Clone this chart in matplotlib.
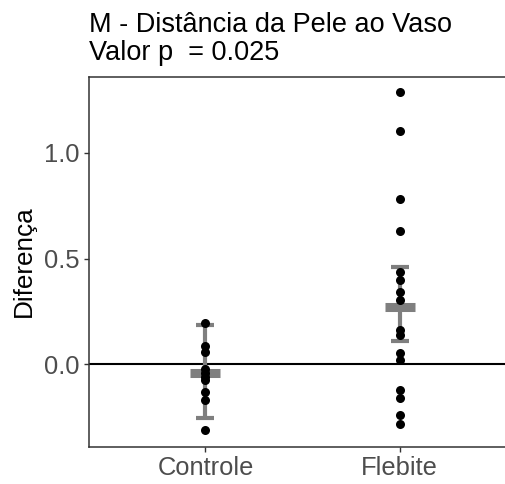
import matplotlib
matplotlib.use("Agg")
import matplotlib.pyplot as plt

plt.rcParams['font.family'] = ['Liberation Sans', 'DejaVu Sans']

# Groups and per-subject differences
categories = ["Controle", "Flebite"]
controle = [0.195, 0.085, 0.06, -0.02, -0.04, -0.06, -0.075, -0.13, -0.17, -0.31]
flebite = [1.285, 1.104, 0.78, 0.63, 0.438, 0.398, 0.343, 0.304,
           0.16, 0.14, 0.052, 0.02, -0.12, -0.16, -0.24, -0.28]

# Summary per group: centre and interval limits
centre = [-0.041, 0.272]
lower = [-0.254, 0.11]
upper = [0.186, 0.461]

title_lines = ["M - Distância da Pele ao Vaso", "Valor p  = 0.025"]
y_label = "Diferença"
y_ticks = [0.0, 0.5, 1.0]

W, H = 505, 484
dpi = 100
fig = plt.figure(figsize=(W / dpi, H / dpi), dpi=dpi)

left_px, right_px, top_px, bottom_px = 89, 516, 77, 447
ax = fig.add_axes([left_px / W, 1 - bottom_px / H,
                   (right_px - left_px) / W, (bottom_px - top_px) / H])

xpos = [1, 2]
grey = "#7f7f7f"

# zero reference line
ax.axhline(0, color="black", lw=1.5, zorder=2)

# interval bars
for x, c, lo, hi in zip(xpos, centre, lower, upper):
    ax.errorbar([x], [c], yerr=[[c - lo], [hi - c]], fmt="none",
                ecolor=grey, elinewidth=3.0, capsize=6.8, capthick=3.0, zorder=3)
    ax.plot([x], [c], marker="_", markersize=21.5, mew=6.5, color=grey, zorder=3)

# individual points
for x, vals in zip(xpos, [controle, flebite]):
    ax.plot([x] * len(vals), vals, "o", color="black", markersize=6.5,
            markeredgewidth=0, zorder=4)

ax.set_xlim(0.4, 2.6)
ax.set_ylim(-0.391, 1.358)
ax.set_xticks(xpos)
ax.set_xticklabels(categories)
ax.set_yticks(y_ticks)
ax.set_yticklabels([f"{v:.1f}" for v in y_ticks])

for s in ax.spines.values():
    s.set_color("#333333")
    s.set_linewidth(1.1)

ax.tick_params(axis="both", colors="#333333", length=3.6, width=1.0,
               labelsize=18.4, labelcolor="#4D4D4D")
ax.tick_params(axis="x", pad=3)
ax.tick_params(axis="y", pad=3)

fig.text(24 / W, 1 - 261 / H, y_label, rotation=90, ha="center", va="center",
         fontsize=18.8, color="black")

fig.text(89 / W, 1 - 32 / H, title_lines[0], ha="left", va="baseline",
         fontsize=19.5, color="black")
fig.text(89 / W, 1 - 60 / H, title_lines[1], ha="left", va="baseline",
         fontsize=19.5, color="black")

fig.savefig("out.png", dpi=dpi)
